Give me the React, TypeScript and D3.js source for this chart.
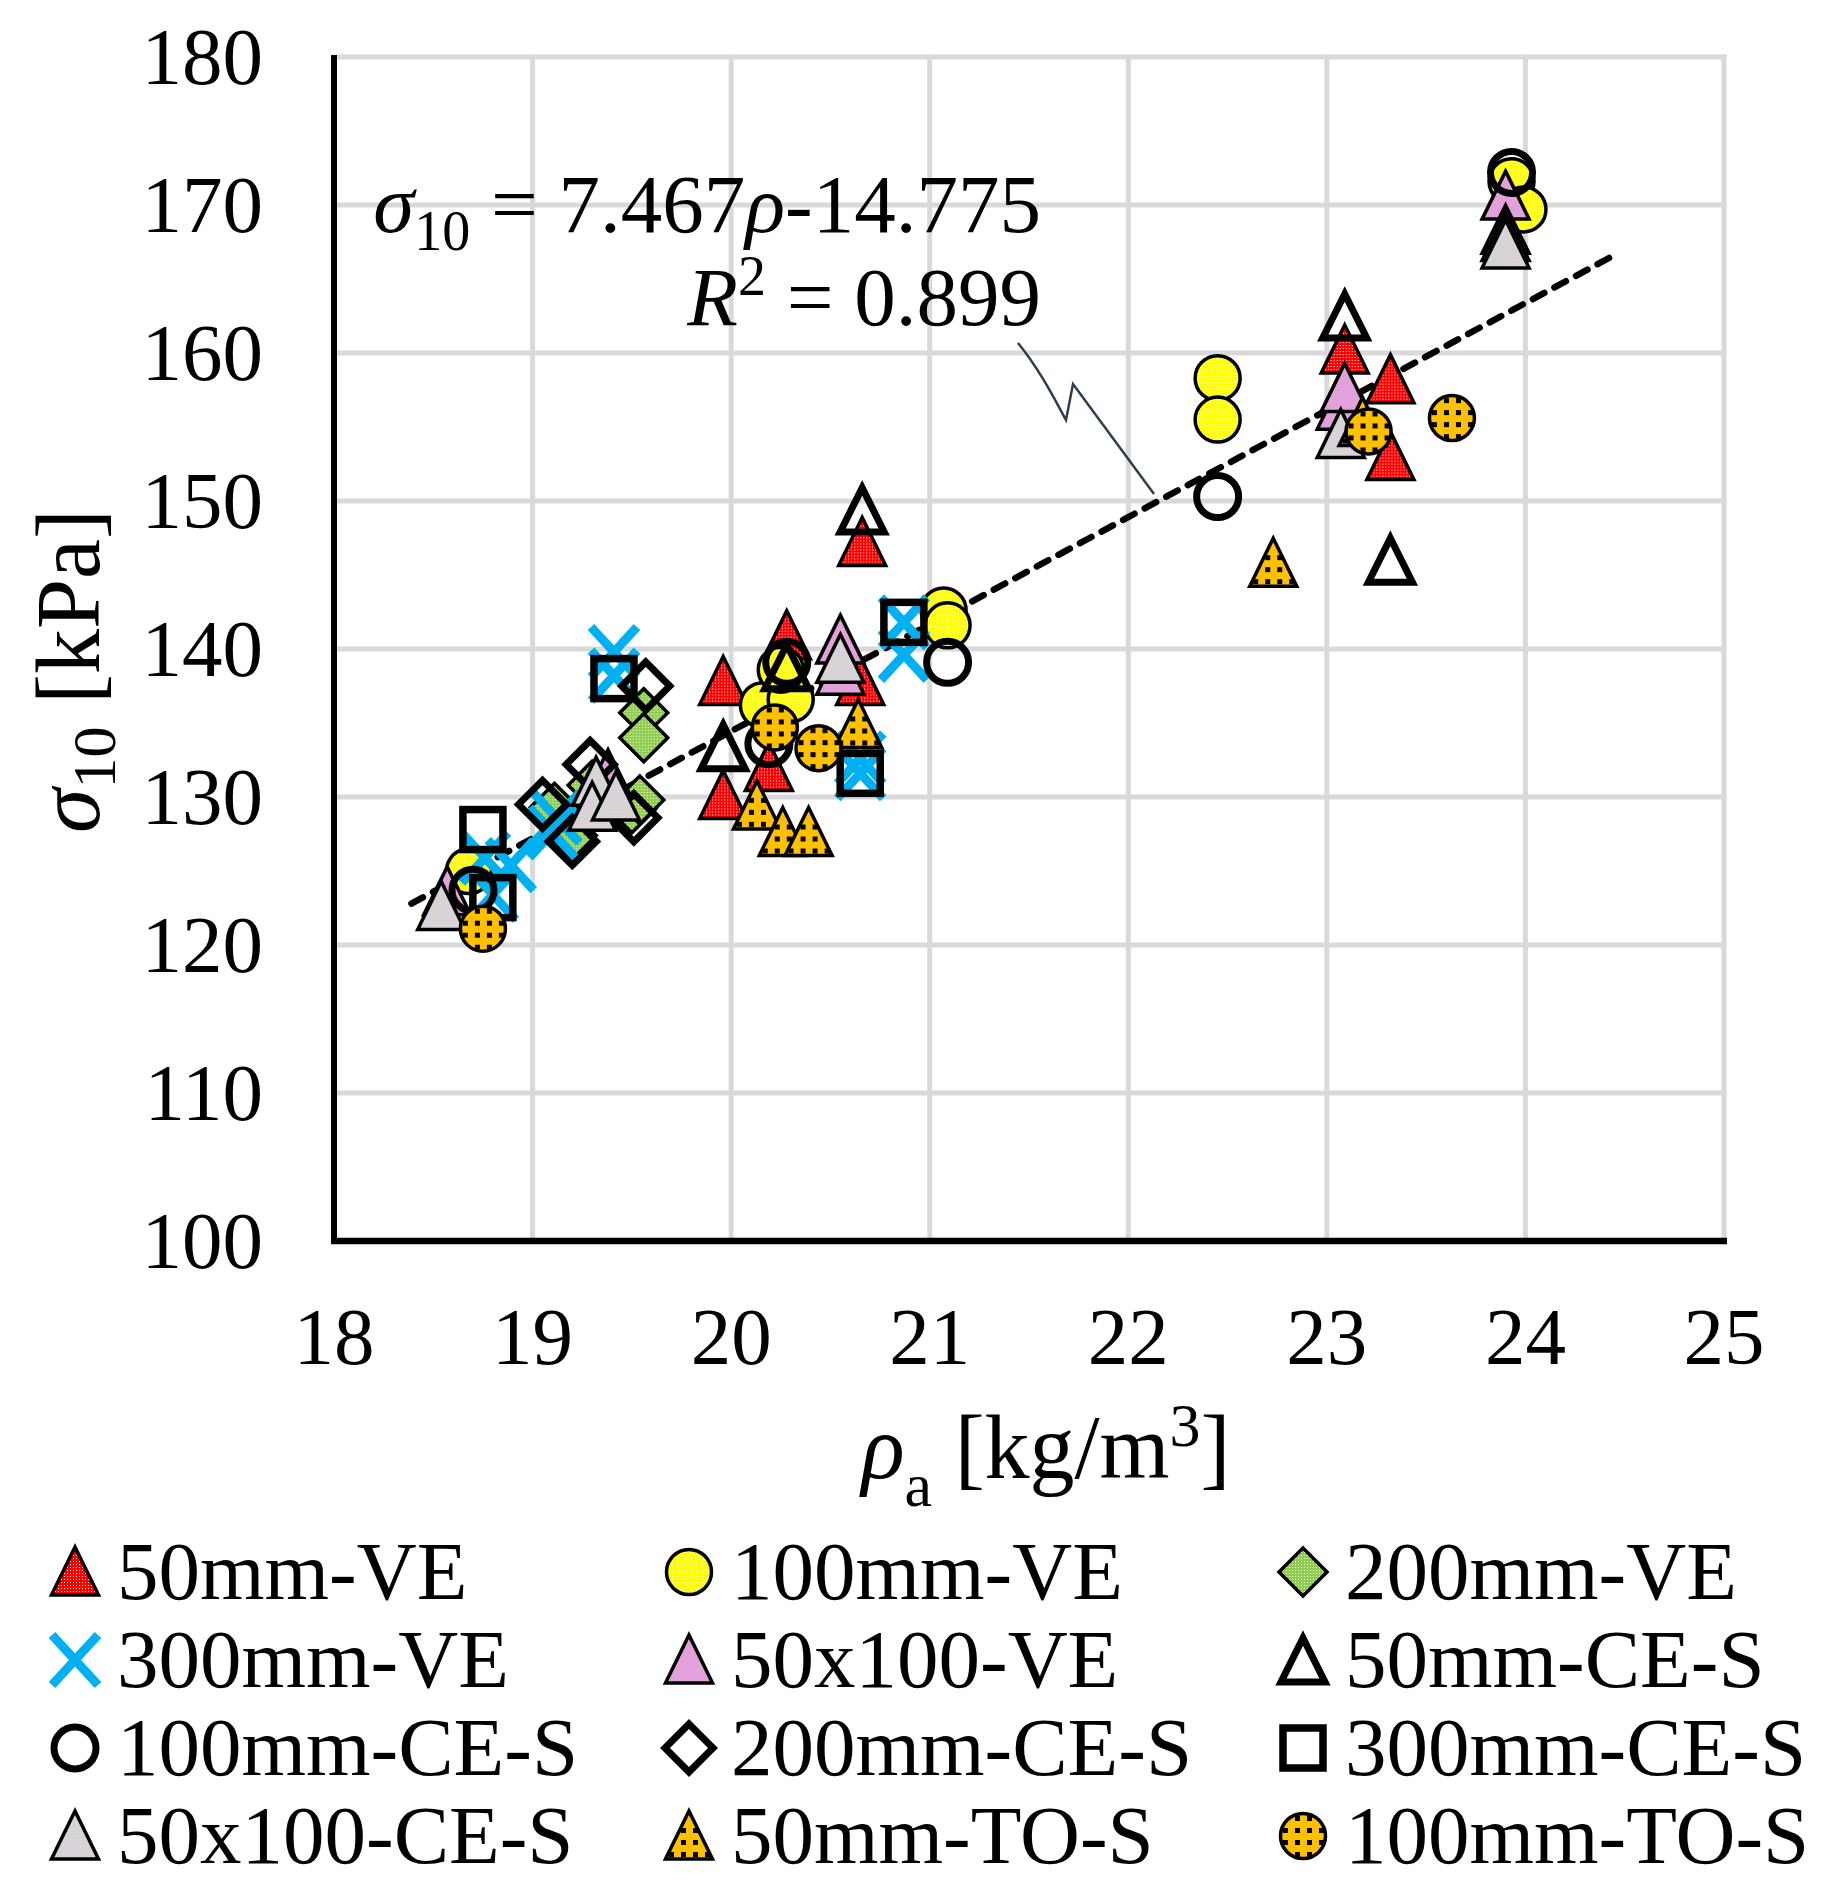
import React from 'react';
import * as d3 from 'd3';

const W = 1840;
const H = 1888;

// axis ticks
const rhoTicks = [18, 19, 20, 21, 22, 23, 24, 25];
const sigmaTicks = [100, 110, 120, 130, 140, 150, 160, 170, 180];

const seriesNames = [
  '50mm-VE', '100mm-VE', '200mm-VE',
  '300mm-VE', '50x100-VE', '50mm-CE-S',
  '100mm-CE-S', '200mm-CE-S', '300mm-CE-S',
  '50x100-CE-S', '50mm-TO-S', '100mm-TO-S',
];

// [rho_a, sigma_10]
const ve50: [number, number][] = [
  [19.96, 137.8], [19.96, 130.1], [20.28, 140.9], [20.19, 132.0], [20.65, 137.8],
  [20.66, 147.2], [23.09, 160.2], [23.08, 157.3], [23.32, 158.2], [23.32, 153.0],
];
const ve100: [number, number][] = [
  [18.68, 125.0], [20.16, 136.2], [20.30, 136.6], [20.25, 138.6], [21.07, 142.6],
  [21.09, 141.6], [22.45, 158.3], [22.45, 155.5], [23.93, 171.6], [23.99, 169.7],
];
const ve200: [number, number][] = [
  [19.56, 135.7], [19.56, 134.0], [19.50, 129.2], [19.54, 129.8], [19.20, 127.4],
  [19.11, 129.3], [19.30, 130.8],
];
const ve300: [number, number][] = [
  [19.41, 139.8], [19.41, 138.2], [18.76, 125.9], [18.89, 125.4], [18.80, 123.4],
  [19.12, 128.6], [19.10, 127.6], [20.87, 141.8], [20.87, 139.6], [20.65, 131.6],
  [20.65, 132.6],
];
const ve50x100: [number, number][] = [
  [18.57, 123.6], [19.38, 131.5], [20.55, 140.6], [20.55, 138.5], [23.07, 156.4],
  [23.09, 157.6], [23.90, 170.6], [23.90, 168.3], [23.90, 167.8],
];
const ce50: [number, number][] = [
  [20.66, 149.4], [23.09, 162.5], [23.32, 146.0], [19.96, 133.4], [20.28, 138.8],
];
const ce100: [number, number][] = [
  [18.70, 123.7], [20.28, 139.1], [20.19, 133.6], [21.09, 139.1], [22.45, 150.3],
  [23.93, 172.2],
];
const ce200: [number, number][] = [
  [19.57, 137.5], [19.29, 132.2], [19.05, 129.5], [19.20, 127.0], [19.51, 128.6],
];
const ce300: [number, number][] = [
  [18.75, 127.8], [18.80, 123.2], [19.41, 138.0], [20.87, 141.8], [20.65, 131.6],
];
const ce50x100: [number, number][] = [
  [18.54, 122.6], [19.32, 131.0], [19.30, 129.3], [19.42, 130.0], [20.55, 139.3],
  [23.07, 154.5], [23.90, 167.3],
];
const to50: [number, number][] = [
  [20.64, 134.9], [20.13, 129.4], [20.26, 127.6], [20.39, 127.6], [22.73, 145.8],
  [23.18, 155.3],
];
const to100: [number, number][] = [
  [18.75, 121.1], [20.22, 134.7], [20.44, 133.3], [23.21, 154.7], [23.63, 155.6],
];

// dashed trend line ends as drawn
const trendRho = [18.39, 24.46];
const trendSigma = [122.8, 166.7];

const seriesData = [ve50, ve100, ve200, ve300, ve50x100, ce50, ce100, ce200, ce300, ce50x100, to50, to100];

type Kind = 'tri' | 'circle' | 'diamond' | 'x' | 'otri' | 'ocircle' | 'odiamond' | 'osquare';
const styles: { kind: Kind; fill: string }[] = [
  { kind: 'tri', fill: 'url(#pRed)' },
  { kind: 'circle', fill: 'url(#pYellow)' },
  { kind: 'diamond', fill: 'url(#pGreen)' },
  { kind: 'x', fill: 'none' },
  { kind: 'tri', fill: '#e3a1dc' },
  { kind: 'otri', fill: 'none' },
  { kind: 'ocircle', fill: 'none' },
  { kind: 'odiamond', fill: 'none' },
  { kind: 'osquare', fill: 'none' },
  { kind: 'tri', fill: 'url(#pGray)' },
  { kind: 'tri', fill: 'url(#pOrange)' },
  { kind: 'circle', fill: 'url(#pOrange)' },
];

const Marker = ({ kind, fill }: { kind: Kind; fill: string }) => {
  switch (kind) {
    case 'tri':
      return <path d="M0,-25L23.5,23L-23.5,23Z" fill={fill} stroke="#000" strokeWidth={3.5} strokeLinejoin="miter" />;
    case 'circle':
      return <circle r={22.5} fill={fill} stroke="#000" strokeWidth={3.5} />;
    case 'diamond':
      return <path d="M0,-24L24,0L0,24L-24,0Z" fill={fill} stroke="#000" strokeWidth={3.5} />;
    case 'x':
      return <path d="M-23,-25L23,25M23,-25L-23,25" fill="none" stroke="#00b0f0" strokeWidth={9} />;
    case 'otri':
      return <path d="M0,-22L22,22L-22,22Z" fill="none" stroke="#000" strokeWidth={7} strokeLinejoin="miter" />;
    case 'ocircle':
      return <circle r={21} fill="none" stroke="#000" strokeWidth={7} />;
    case 'odiamond':
      return <path d="M0,-24L24,0L0,24L-24,0Z" fill="none" stroke="#000" strokeWidth={7} />;
    case 'osquare':
      return <rect x={-20} y={-20} width={40} height={40} fill="none" stroke="#000" strokeWidth={7.5} />;
  }
  return null;
};

const font = '"Liberation Serif", "Times New Roman", serif';

export default function App() {
  const x = d3.scaleLinear().domain([18, 25]).range([334, 1724]);
  const y = d3.scaleLinear().domain([100, 180]).range([1241, 57]);

  const trend = d3.line<number>()
    .x((d) => x(trendRho[d]))
    .y((d) => y(trendSigma[d]));

  const legCol = d3.scalePoint<number>().domain([0, 1, 2]).range([75, 1303]);
  const legRow = d3.scalePoint<number>().domain([0, 1, 2, 3]).range([1572, 1836]);

  return (
    <div style={{ position: 'absolute', left: 0, top: 0 }}>
      <svg width={W} height={H} style={{ display: 'block', background: '#fff' }} fontFamily={font}>
        <defs>
          <pattern id="pRed" width={3} height={3} patternUnits="userSpaceOnUse">
            <rect width={3} height={3} fill="#ff0000" />
            <rect x={1} y={1} width={1} height={1} fill="#ffffff" />
          </pattern>
          <pattern id="pYellow" width={3} height={3} patternUnits="userSpaceOnUse">
            <rect width={3} height={3} fill="#ffff00" />
            <rect x={1} y={1} width={1} height={1} fill="#ffffff" />
          </pattern>
          <pattern id="pGreen" width={3} height={3} patternUnits="userSpaceOnUse">
            <rect width={3} height={3} fill="#8fce4c" />
            <rect x={1} y={1} width={1} height={1} fill="#ffffff" />
          </pattern>
          <pattern id="pGray" width={3} height={3} patternUnits="userSpaceOnUse">
            <rect width={3} height={3} fill="#d6d6d6" />
            <rect x={1} y={1} width={1} height={1} fill="#e8b8e2" />
          </pattern>
          <pattern id="pOrange" width={12} height={12} patternUnits="userSpaceOnUse">
            <rect width={12} height={12} fill="#ffc000" />
            <rect x={4} y={4} width={5} height={5} fill="#000" />
          </pattern>
        </defs>

        {/* grid */}
        {rhoTicks.slice(1).map((t) => (
          <line key={'gx' + t} x1={x(t)} x2={x(t)} y1={y(180) - 2.5} y2={y(100)} stroke="#d9d9d9" strokeWidth={5} />
        ))}
        {sigmaTicks.slice(1).map((t) => (
          <line key={'gy' + t} x1={x(18)} x2={x(25) + 2.5} y1={y(t)} y2={y(t)} stroke="#d9d9d9" strokeWidth={5} />
        ))}

        {/* axes */}
        <line x1={x(18)} x2={x(18)} y1={y(180) - 2} y2={y(100) + 3} stroke="#000" strokeWidth={6} />
        <line x1={x(18) - 3} x2={x(25) + 3} y1={y(100)} y2={y(100)} stroke="#000" strokeWidth={6.5} />

        {/* tick labels */}
        {sigmaTicks.map((t) => (
          <text key={'ty' + t} x={263} y={y(t) + 27} textAnchor="end" fontSize={81}>{t}</text>
        ))}
        {rhoTicks.map((t) => (
          <text key={'tx' + t} x={x(t)} y={1364} textAnchor="middle" fontSize={81}>{t}</text>
        ))}

        {/* axis titles */}
        <text transform="translate(99,671) rotate(-90)" textAnchor="middle" fontSize={90}>
          <tspan fontStyle="italic">σ</tspan>
          <tspan fontSize={62} dy={16}>10</tspan>
          <tspan dy={-16}> [kPa]</tspan>
        </text>
        <text x={1046} y={1478} textAnchor="middle" fontSize={90}>
          <tspan fontStyle="italic">ρ</tspan>
          <tspan fontSize={62} dy={28}>a</tspan>
          <tspan dy={-28}> [kg/m</tspan>
          <tspan fontSize={62} dy={-32}>3</tspan>
          <tspan dy={32}>]</tspan>
        </text>

        {/* trend line */}
        <path d={trend([0, 1]) || ''} fill="none" stroke="#000" strokeWidth={6.5} strokeDasharray="13 11.5" strokeLinecap="round" />

        {/* markers */}
        {seriesData.map((pts, si) => (
          <g key={'s' + si}>
            {pts.map((p, i) => (
              <g key={i} transform={`translate(${x(p[0])},${y(p[1])})`}>
                <Marker kind={styles[si].kind} fill={styles[si].fill} />
              </g>
            ))}
          </g>
        ))}

        {/* equation label */}
        <path d="M1018,343 C1040,370 1055,400 1066,420 L1073,384 L1154,494" fill="none" stroke="#2f3f4f" strokeWidth={2.5} />
        <text x={1041} y={232} textAnchor="end" fontSize={83}>
          <tspan fontStyle="italic">σ</tspan>
          <tspan fontSize={56} dy={18}>10</tspan>
          <tspan dy={-18}> = 7.467</tspan>
          <tspan fontStyle="italic">ρ</tspan>
          <tspan>-14.775</tspan>
        </text>
        <text x={1041} y={325} textAnchor="end" fontSize={83}>
          <tspan fontStyle="italic">R</tspan>
          <tspan fontSize={56} dy={-30}>2</tspan>
          <tspan dy={30}> = 0.899</tspan>
        </text>

        {/* legend */}
        {seriesNames.map((name, i) => {
          const cx = legCol(i % 3) as number;
          const cy = legRow(Math.floor(i / 3)) as number;
          return (
            <g key={'l' + i}>
              <g transform={`translate(${cx},${cy})`}>
                <Marker kind={styles[i].kind} fill={styles[i].fill} />
              </g>
              <text x={cx + 42} y={cy + 27} fontSize={83}>{name}</text>
            </g>
          );
        })}
      </svg>
    </div>
  );
}
